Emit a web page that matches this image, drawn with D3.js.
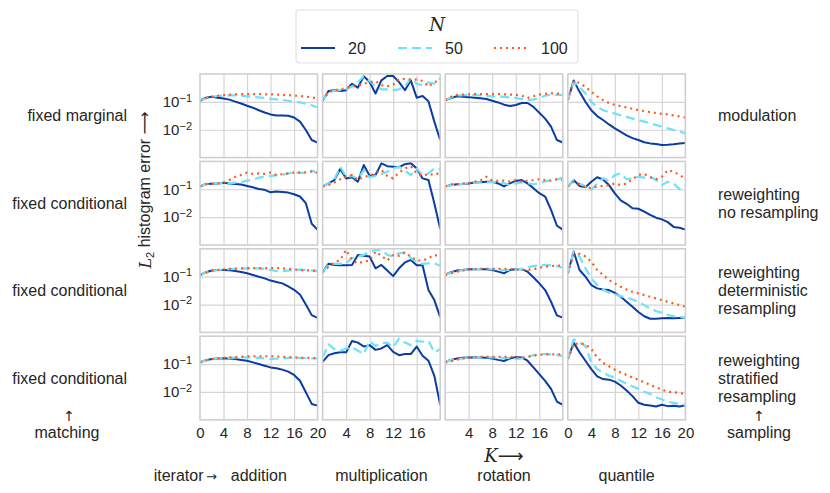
<!DOCTYPE html>
<html><head><meta charset="utf-8">
<script src="https://cdn.jsdelivr.net/npm/d3@7"></script>
<style>
body{margin:0;background:#fff}
svg{display:block}
text{font-family:"Liberation Sans",Arial,sans-serif;fill:#262626}
</style>
</head><body>
<svg id="chart" width="830" height="493"></svg>
<script>
// K = 0..20 ; values are log10 of the L2 histogram error
const K = [0,1,2,3,4,5,6,7,8,9,10,11,12,13,14,15,16,17,18,19,20];
const Ns = [20, 50, 100];
const columns = ["addition", "multiplication", "rotation", "quantile"];
const matchingLabels = ["fixed marginal", "fixed conditional", "fixed conditional", "fixed conditional"];
const samplingLabels = [["modulation"], ["reweighting", "no resampling"], ["reweighting", "deterministic", "resampling"], ["reweighting", "stratified", "resampling"]];
const xTicksByCol = [[0,4,8,12,16,20], [4,8,12,16], [4,8,12,16], [0,4,8,12,16,20]];
const xGrid = [4, 8, 12, 16];
const yTicks = [1e-1, 1e-2];
const yTickExp = ["\u22121", "\u22122"];

// row 1: fixed marginal / modulation
const fm_add_20 = [-0.96,-0.85,-0.82,-0.85,-0.88,-0.92,-0.99,-1.06,-1.14,-1.21,-1.30,-1.38,-1.45,-1.49,-1.49,-1.50,-1.56,-1.71,-2.01,-2.37,-2.46];
const fm_add_50 = [-0.96,-0.88,-0.82,-0.79,-0.78,-0.77,-0.77,-0.78,-0.80,-0.82,-0.84,-0.86,-0.89,-0.91,-0.93,-0.96,-0.99,-1.02,-1.07,-1.12,-1.20];
const fm_add_100 = [-0.96,-0.87,-0.82,-0.78,-0.76,-0.74,-0.73,-0.72,-0.72,-0.72,-0.72,-0.73,-0.73,-0.74,-0.75,-0.76,-0.77,-0.79,-0.81,-0.84,-0.88];
const fm_mul_20 = [-0.96,-0.61,-0.58,-0.61,-0.58,-0.35,-0.49,-0.08,-0.29,-0.70,-0.23,-0.07,-0.07,-0.29,-0.58,-0.23,-0.85,-0.79,-0.98,-1.71,-2.37];
const fm_mul_50 = [-0.96,-0.65,-0.60,-0.58,-0.55,-0.45,-0.30,-0.08,-0.25,-0.45,-0.55,-0.55,-0.58,-0.55,-0.45,-0.15,-0.35,-0.40,-0.30,-0.35,-0.15];
const fm_mul_100 = [-0.96,-0.65,-0.58,-0.55,-0.50,-0.45,-0.42,-0.35,-0.30,-0.25,-0.40,-0.44,-0.38,-0.18,-0.18,-0.20,-0.20,-0.25,-0.45,-0.30,-0.20];
const fm_rot_20 = [-0.94,-0.86,-0.80,-0.82,-0.83,-0.85,-0.87,-0.90,-0.96,-1.02,-1.10,-1.15,-1.11,-1.04,-1.04,-1.18,-1.39,-1.60,-1.89,-2.37,-2.46];
const fm_rot_50 = [-0.94,-0.84,-0.78,-0.76,-0.76,-0.76,-0.77,-0.78,-0.80,-0.81,-0.82,-0.84,-0.86,-0.90,-0.93,-0.92,-0.86,-0.78,-0.74,-0.75,-0.75];
const fm_rot_100 = [-0.94,-0.82,-0.76,-0.74,-0.73,-0.72,-0.72,-0.72,-0.72,-0.72,-0.73,-0.74,-0.75,-0.78,-0.86,-0.80,-0.74,-0.71,-0.69,-0.70,-0.72];
const fm_qua_20 = [-0.94,-0.23,-0.64,-1.00,-1.30,-1.51,-1.65,-1.81,-1.95,-2.08,-2.20,-2.30,-2.37,-2.45,-2.49,-2.51,-2.55,-2.54,-2.52,-2.49,-2.48];
const fm_qua_50 = [-0.94,-0.29,-0.46,-0.70,-1.00,-1.18,-1.30,-1.36,-1.42,-1.48,-1.54,-1.60,-1.65,-1.71,-1.77,-1.83,-1.89,-1.95,-2.01,-2.07,-2.13];
const fm_qua_100 = [-0.94,-0.25,-0.32,-0.46,-0.64,-0.80,-0.94,-1.04,-1.11,-1.15,-1.20,-1.25,-1.30,-1.33,-1.37,-1.40,-1.43,-1.45,-1.49,-1.52,-1.56];

// row 2: fixed conditional / reweighting, no resampling
const nr_add_20 = [-0.90,-0.81,-0.80,-0.79,-0.77,-0.79,-0.81,-0.83,-0.88,-0.93,-0.99,-1.02,-1.11,-1.08,-1.10,-1.12,-1.18,-1.26,-1.50,-2.24,-2.45];
const nr_add_50 = [-0.90,-0.82,-0.80,-0.79,-0.78,-0.79,-0.76,-0.75,-0.69,-0.66,-0.58,-0.55,-0.52,-0.50,-0.48,-0.43,-0.40,-0.40,-0.42,-0.33,-0.43];
const nr_add_100 = [-0.90,-0.82,-0.80,-0.79,-0.77,-0.67,-0.55,-0.49,-0.40,-0.45,-0.43,-0.45,-0.40,-0.49,-0.46,-0.43,-0.40,-0.40,-0.39,-0.37,-0.40];
const nr_mul_20 = [-0.90,-0.79,-0.67,-0.27,-0.61,-0.57,-0.73,-0.13,-0.52,-0.49,-0.07,-0.17,-0.19,-0.21,-0.10,-0.07,-0.25,-0.61,-0.67,-1.50,-2.43];
const nr_mul_50 = [-0.90,-0.79,-0.64,-0.19,-0.55,-0.52,-0.64,-0.31,-0.57,-0.52,-0.45,-0.37,-0.25,-0.19,-0.33,-0.49,-0.25,-0.49,-0.43,-0.25,-0.29];
const nr_mul_100 = [-0.90,-0.85,-0.76,-0.64,-0.55,-0.49,-0.67,-0.55,-0.52,-0.43,-0.31,-0.52,-0.61,-0.40,-0.25,-0.17,-0.43,-0.52,-0.45,-0.49,-0.40];
const nr_rot_20 = [-0.90,-0.85,-0.82,-0.81,-0.79,-0.76,-0.75,-0.73,-0.73,-0.79,-0.90,-0.79,-0.70,-0.67,-0.79,-0.96,-1.14,-1.26,-1.74,-2.31,-2.45];
const nr_rot_50 = [-0.90,-0.85,-0.82,-0.81,-0.78,-0.76,-0.76,-0.75,-0.74,-0.76,-0.78,-0.85,-0.80,-0.75,-0.78,-0.82,-0.78,-0.72,-0.68,-0.65,-0.58];
const nr_rot_100 = [-0.90,-0.82,-0.82,-0.80,-0.78,-0.73,-0.68,-0.55,-0.69,-0.70,-0.69,-0.73,-0.67,-0.73,-0.69,-0.67,-0.64,-0.67,-0.69,-0.64,-0.67];
const nr_qua_20 = [-0.90,-0.67,-0.88,-0.93,-0.73,-0.57,-0.65,-0.85,-1.15,-1.40,-1.52,-1.68,-1.70,-1.80,-1.92,-2.02,-2.08,-2.18,-2.35,-2.38,-2.45];
const nr_qua_50 = [-0.90,-0.67,-0.79,-0.90,-1.02,-0.79,-0.61,-0.69,-0.49,-0.43,-0.64,-0.61,-0.55,-0.58,-0.55,-0.67,-0.85,-0.73,-0.79,-1.00,-0.85];
const nr_qua_100 = [-0.90,-0.73,-0.82,-0.93,-0.96,-0.90,-0.88,-0.85,-0.79,-0.85,-0.79,-0.64,-0.49,-0.45,-0.57,-0.64,-0.55,-0.31,-0.37,-0.49,-0.61];

// row 3: fixed conditional / reweighting, deterministic resampling
const dr_add_20 = [-0.94,-0.84,-0.78,-0.76,-0.76,-0.77,-0.80,-0.83,-0.88,-0.94,-1.00,-1.06,-1.14,-1.19,-1.24,-1.35,-1.47,-1.64,-2.00,-2.38,-2.48];
const dr_add_50 = [-0.94,-0.84,-0.79,-0.76,-0.74,-0.73,-0.72,-0.71,-0.70,-0.70,-0.70,-0.72,-0.76,-0.80,-0.80,-0.78,-0.76,-0.75,-0.76,-0.78,-0.80];
const dr_add_100 = [-0.94,-0.86,-0.80,-0.76,-0.74,-0.72,-0.71,-0.70,-0.70,-0.69,-0.69,-0.69,-0.69,-0.69,-0.70,-0.72,-0.74,-0.76,-0.77,-0.78,-0.78];
const dr_mul_20 = [-0.84,-0.54,-0.58,-0.59,-0.59,-0.58,-0.22,-0.25,-0.28,-0.70,-0.58,-0.78,-0.98,-0.70,-0.49,-0.40,-0.59,-0.59,-1.48,-1.84,-2.45];
const dr_mul_50 = [-0.84,-0.58,-0.54,-0.54,-0.52,-0.34,-0.28,-0.22,-0.10,-0.04,-0.04,-0.22,-0.28,-0.16,-0.13,-0.34,-0.46,-0.54,-0.52,-0.52,-0.61];
const dr_mul_100 = [-0.84,-0.64,-0.49,-0.40,-0.04,-0.40,-0.52,-0.46,-0.42,-0.10,-0.25,-0.42,-0.22,-0.25,-0.13,-0.28,-0.42,-0.42,-0.34,-0.22,-0.28];
const dr_rot_20 = [-0.92,-0.84,-0.78,-0.76,-0.73,-0.73,-0.73,-0.73,-0.76,-0.82,-0.88,-0.76,-0.73,-0.73,-0.82,-1.02,-1.24,-1.48,-1.90,-2.39,-2.47];
const dr_rot_50 = [-0.92,-0.86,-0.80,-0.76,-0.74,-0.73,-0.72,-0.72,-0.73,-0.75,-0.77,-0.76,-0.74,-0.72,-0.66,-0.62,-0.59,-0.58,-0.59,-0.62,-0.68];
const dr_rot_100 = [-0.94,-0.88,-0.82,-0.78,-0.75,-0.73,-0.72,-0.72,-0.72,-0.72,-0.72,-0.72,-0.74,-0.76,-0.76,-0.74,-0.68,-0.64,-0.62,-0.60,-0.60];
const dr_qua_20 = [-0.88,-0.10,-0.76,-1.00,-1.30,-1.42,-1.46,-1.48,-1.58,-1.72,-1.90,-2.08,-2.27,-2.42,-2.51,-2.51,-2.49,-2.48,-2.49,-2.48,-2.47];
const dr_qua_50 = [-0.88,-0.10,-0.28,-0.70,-1.06,-1.30,-1.46,-1.58,-1.63,-1.70,-1.75,-1.82,-1.90,-2.02,-2.14,-2.23,-2.30,-2.37,-2.42,-2.45,-2.47];
const dr_qua_100 = [-0.88,-0.22,-0.18,-0.28,-0.46,-0.76,-0.94,-1.12,-1.24,-1.36,-1.46,-1.54,-1.60,-1.66,-1.72,-1.78,-1.84,-1.90,-1.96,-2.02,-2.08];

// row 4: fixed conditional / reweighting, stratified resampling
const sr_add_20 = [-0.94,-0.86,-0.82,-0.80,-0.79,-0.80,-0.82,-0.85,-0.88,-0.94,-1.00,-1.06,-1.12,-1.15,-1.20,-1.27,-1.39,-1.60,-2.01,-2.43,-2.49];
const sr_add_50 = [-0.94,-0.86,-0.82,-0.80,-0.79,-0.78,-0.77,-0.76,-0.76,-0.76,-0.78,-0.80,-0.82,-0.81,-0.80,-0.79,-0.78,-0.78,-0.79,-0.80,-0.80];
const sr_add_100 = [-0.94,-0.87,-0.82,-0.80,-0.78,-0.76,-0.75,-0.74,-0.72,-0.72,-0.72,-0.72,-0.72,-0.73,-0.74,-0.75,-0.76,-0.77,-0.78,-0.78,-0.79];
const sr_mul_20 = [-0.92,-0.68,-0.61,-0.58,-0.58,-0.17,-0.23,-0.37,-0.32,-0.49,-0.44,-0.32,-0.56,-0.68,-0.64,-0.64,-0.37,-0.70,-0.88,-1.42,-2.46];
const sr_mul_50 = [-0.76,-0.29,-0.46,-0.52,-0.44,-0.40,-0.52,-0.64,-0.17,-0.35,-0.25,-0.23,-0.40,-0.08,-0.23,-0.32,-0.17,-0.20,-0.17,-0.58,-0.46];
const sr_mul_100 = []; // not visible in the reference panel
const sr_rot_20 = [-0.92,-0.85,-0.80,-0.77,-0.76,-0.76,-0.76,-0.77,-0.80,-0.85,-0.89,-0.80,-0.75,-0.76,-0.88,-1.12,-1.36,-1.60,-1.89,-2.35,-2.46];
const sr_rot_50 = [-0.92,-0.86,-0.82,-0.80,-0.78,-0.77,-0.76,-0.76,-0.76,-0.77,-0.78,-0.79,-0.82,-0.80,-0.75,-0.68,-0.65,-0.64,-0.65,-0.67,-0.72];
const sr_rot_100 = [-0.95,-0.90,-0.84,-0.80,-0.77,-0.75,-0.74,-0.74,-0.74,-0.74,-0.74,-0.74,-0.76,-0.77,-0.74,-0.70,-0.67,-0.65,-0.65,-0.65,-0.65];
const sr_qua_20 = [-0.82,-0.23,-0.58,-0.88,-1.18,-1.44,-1.54,-1.56,-1.63,-1.77,-1.95,-2.15,-2.39,-2.46,-2.49,-2.52,-2.46,-2.51,-2.50,-2.52,-2.48];
const sr_qua_50 = [-0.82,-0.11,-0.23,-0.35,-0.94,-1.18,-1.30,-1.42,-1.48,-1.60,-1.71,-1.80,-1.89,-1.99,-2.07,-2.19,-2.27,-2.35,-2.39,-2.43,-2.46];
const sr_qua_100 = [-0.82,-0.29,-0.25,-0.29,-0.46,-0.76,-0.96,-1.08,-1.20,-1.30,-1.39,-1.48,-1.56,-1.65,-1.75,-1.83,-1.92,-1.99,-2.01,-2.04,-2.07];

const grid = [
  [[fm_add_20,fm_add_50,fm_add_100],[fm_mul_20,fm_mul_50,fm_mul_100],[fm_rot_20,fm_rot_50,fm_rot_100],[fm_qua_20,fm_qua_50,fm_qua_100]],
  [[nr_add_20,nr_add_50,nr_add_100],[nr_mul_20,nr_mul_50,nr_mul_100],[nr_rot_20,nr_rot_50,nr_rot_100],[nr_qua_20,nr_qua_50,nr_qua_100]],
  [[dr_add_20,dr_add_50,dr_add_100],[dr_mul_20,dr_mul_50,dr_mul_100],[dr_rot_20,dr_rot_50,dr_rot_100],[dr_qua_20,dr_qua_50,dr_qua_100]],
  [[sr_add_20,sr_add_50,sr_add_100],[sr_mul_20,sr_mul_50,sr_mul_100],[sr_rot_20,sr_rot_50,sr_rot_100],[sr_qua_20,sr_qua_50,sr_qua_100]]
];

// ---- styling / layout ----
const styles = [
  {color:"#0a3ca1", dash:null, width:2},
  {color:"#6fe2fb", dash:"9,5", width:2.2},
  {color:"#ff5a1e", dash:"2,4", width:2.2}
];
const panelW = 117.6, panelH = 83.6;
const colX = [200, 322.6, 445.2, 567.8];
const rowY = [74, 161.4, 248.8, 336.2];
const FONT = '"Liberation Sans",Arial,sans-serif';

const svg = d3.select("#chart");
const x = d3.scaleLinear().domain([0, 20]).range([0, panelW]);
const y = d3.scaleLog().domain([1e-3, 1]).range([panelH, 0]);
const line = d3.line().x(d => x(d[0])).y(d => y(Math.pow(10, d[1])));

svg.append("defs").append("clipPath").attr("id", "pclip").append("rect")
  .attr("x", 0).attr("y", 0).attr("width", panelW).attr("height", panelH);

grid.forEach((row, r) => {
  row.forEach((panel, c) => {
    const g = svg.append("g").attr("transform", `translate(${colX[c]},${rowY[r]})`);
    g.append("rect").attr("width", panelW).attr("height", panelH).attr("fill", "#fff");
    g.append("g").attr("transform", `translate(0,${panelH})`)
      .call(d3.axisBottom(x).tickValues(xGrid).tickSize(-panelH).tickFormat(""))
      .call(s => s.select(".domain").remove())
      .call(s => s.selectAll("line").attr("stroke", "#d5d5d5").attr("stroke-width", 1.2));
    g.append("g")
      .call(d3.axisLeft(y).tickValues(yTicks).tickSize(-panelW).tickFormat(""))
      .call(s => s.select(".domain").remove())
      .call(s => s.selectAll("line").attr("stroke", "#d5d5d5").attr("stroke-width", 1.2));
    const pg = g.append("g").attr("clip-path", "url(#pclip)");
    panel.forEach((vals, i) => {
      if (!vals.length) return;
      const st = styles[i];
      pg.append("path").datum(vals.map((v, k) => [K[k], v]))
        .attr("d", line).attr("fill", "none")
        .attr("stroke", st.color).attr("stroke-width", st.width)
        .attr("stroke-dasharray", st.dash).attr("stroke-linejoin", "round");
    });
    g.append("rect").attr("width", panelW).attr("height", panelH)
      .attr("fill", "none").attr("stroke", "#cfcfcf").attr("stroke-width", 1.6);
    if (r === 3) {
      g.append("g").attr("transform", `translate(0,${panelH})`)
        .call(d3.axisBottom(x).tickValues(xTicksByCol[c]).tickSize(0).tickPadding(8))
        .call(s => s.select(".domain").remove())
        .call(s => s.selectAll("text").style("font-size", "15px").attr("fill", "#262626").style("font-family", FONT));
    }
    if (c === 0) {
      const ya = g.append("g")
        .call(d3.axisLeft(y).tickValues(yTicks).tickSize(0).tickPadding(8).tickFormat(() => ""))
        .call(s => s.select(".domain").remove());
      ya.selectAll(".tick text").each(function(d, i) {
        const t = d3.select(this).style("font-size", "15px").attr("fill", "#262626").style("font-family", FONT);
        t.text("10");
        t.append("tspan").attr("dy", "-0.5em").style("font-size", "11px").text(yTickExp[i]);
      });
    }
  });
});

// row labels (left)
matchingLabels.forEach((lab, r) => {
  svg.append("text").attr("x", 127).attr("y", rowY[r] + panelH / 2).attr("dy", "0.35em")
    .attr("text-anchor", "end").style("font-size", "16px").text(lab);
});
// row labels (right)
samplingLabels.forEach((lines, r) => {
  const cy = rowY[r] + panelH / 2;
  lines.forEach((l, i) => {
    svg.append("text").attr("x", 718).attr("y", cy + (i - (lines.length - 1) / 2) * 18).attr("dy", "0.35em")
      .style("font-size", "16px").text(l);
  });
});
// bottom corner labels
const ARROWF = '"DejaVu Sans",sans-serif';
svg.append("text").attr("x", 69).attr("y", 421).attr("text-anchor", "middle").style("font-family", ARROWF).style("font-size", "14px").text("\u2191");
svg.append("text").attr("x", 67).attr("y", 438).attr("text-anchor", "middle").style("font-size", "16px").text("matching");
svg.append("text").attr("x", 759).attr("y", 421).attr("text-anchor", "middle").style("font-family", ARROWF).style("font-size", "14px").text("\u2191");
svg.append("text").attr("x", 759).attr("y", 438).attr("text-anchor", "middle").style("font-size", "16px").text("sampling");

// column labels
columns.forEach((lab, c) => {
  svg.append("text").attr("x", colX[c] + panelW / 2).attr("y", 481).attr("text-anchor", "middle")
    .style("font-size", "16px").text(lab);
});
const it = svg.append("text").attr("x", 217).attr("y", 481).attr("text-anchor", "end").style("font-size", "16px");
it.append("tspan").text("iterator");
it.append("tspan").style("font-family", ARROWF).style("font-size", "13px").text("\u2009\u2192");

// x axis label
const kl = svg.append("text").attr("x", colX[2] + panelW / 2).attr("y", 462).attr("text-anchor", "middle").style("font-size", "18px");
kl.append("tspan").style("font-family", '"DejaVu Serif",serif').style("font-style", "italic").text("K");
kl.append("tspan").style("font-family", ARROWF).text("\u27F6");

// y axis label
const yl = svg.append("text").attr("transform", "translate(151,190) rotate(-90)").attr("text-anchor", "middle").style("font-size", "16px");
yl.append("tspan").style("font-family", '"DejaVu Serif",serif').style("font-style", "italic").text("L");
yl.append("tspan").attr("dy", "0.3em").style("font-size", "11px").text("2");
yl.append("tspan").attr("dy", "-0.3em").text(" histogram error ");
yl.append("tspan").style("font-family", ARROWF).text("\u27F6");

// legend
const lg = svg.append("g");
lg.append("rect").attr("x", 296).attr("y", 10).attr("width", 282).attr("height", 53).attr("rx", 3)
  .attr("fill", "#fff").attr("stroke", "#e2e2e2").attr("stroke-width", 1.2);
lg.append("text").attr("x", 437).attr("y", 31).attr("text-anchor", "middle")
  .style("font-family", '"DejaVu Serif",serif').style("font-style", "italic").style("font-size", "18px").text("N");
const legX = [301, 398, 494];
Ns.forEach((n, i) => {
  const st = styles[i];
  lg.append("line").attr("x1", legX[i]).attr("x2", legX[i] + 34).attr("y1", 48).attr("y2", 48)
    .attr("stroke", st.color).attr("stroke-width", st.width).attr("stroke-dasharray", st.dash);
  lg.append("text").attr("x", legX[i] + 47).attr("y", 53.5).style("font-size", "16px").text(n);
});
</script>
</body></html>
